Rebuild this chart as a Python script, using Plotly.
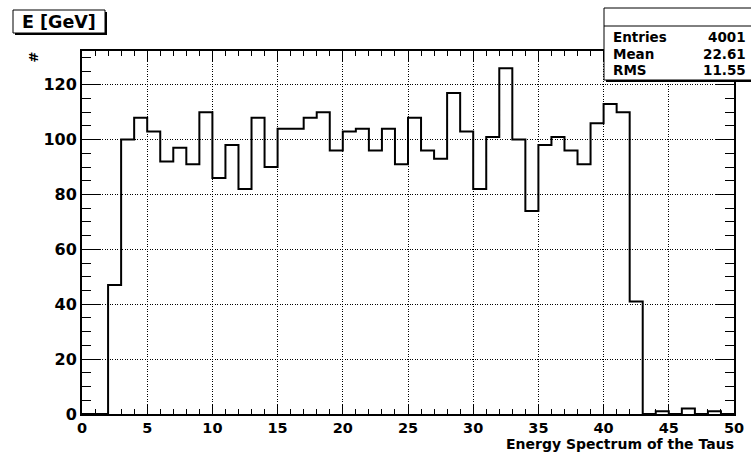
import plotly.graph_objects as go

# ---- data ----
bin_edges = list(range(0, 51))  # 50 bins of width 1 GeV, 0..50
counts = [0, 0, 47, 100, 108, 103, 92, 97, 91, 110,
          86, 98, 82, 108, 90, 104, 104, 108, 110, 96,
          103, 104, 96, 104, 91, 108, 96, 93, 117, 103,
          82, 101, 126, 100, 74, 98, 101, 96, 91, 106,
          113, 110, 41, 0, 1, 0, 2, 0, 1, 0]
x_ticks = [0, 5, 10, 15, 20, 25, 30, 35, 40, 45, 50]
y_ticks = [0, 20, 40, 60, 80, 100, 120]
stats_labels = ["Entries", "Mean", "RMS"]
stats_values = ["4001", "22.61", "11.55"]
title_text = "E [GeV]"
x_title = "Energy Spectrum of the Taus"
y_title = "#"

W, H = 751, 453
L, R, T, B = 82, 17, 51, 39
PW, PH = W - L - R, H - T - B
ymax = max(counts) * 1.05


def px(xp):
    return (xp - L) / PW


def py(yp):
    return (H - B - yp) / PH


FONT = "DejaVu Sans"

fig = go.Figure()
fig.add_trace(go.Scatter(
    x=bin_edges, y=counts + [counts[-1]], mode="lines",
    line=dict(color="black", width=2, shape="hv"),
    hoverinfo="skip", showlegend=False))

axis_common = dict(
    showline=True, linecolor="black", linewidth=2, mirror="ticks",
    ticks="inside", tickcolor="black", tickwidth=1,
    showgrid=True, gridcolor="black", gridwidth=1, griddash="1px,1.5px",
    zeroline=False,
)

fig.update_xaxes(**axis_common, range=[0, 50], tickvals=x_ticks, ticklen=10,
                 minor=dict(ticks="inside", ticklen=5, dtick=1, tickcolor="black", showgrid=False),
                 tickfont=dict(family=FONT, size=14.5, color="black", weight="bold"))
fig.update_yaxes(**axis_common, range=[0, ymax], tickvals=y_ticks, ticklen=18,
                 minor=dict(ticks="inside", ticklen=9, dtick=5, tickcolor="black", showgrid=False),
                 tickfont=dict(family=FONT, size=16, color="black", weight="bold"))

shapes = []
# title box with shadow
shapes.append(dict(type="rect", xref="paper", yref="paper", layer="above",
                   x0=px(15), x1=px(107), y0=py(12), y1=py(35),
                   fillcolor="black", line=dict(width=0)))
shapes.append(dict(type="rect", xref="paper", yref="paper", layer="above",
                   x0=px(13), x1=px(105), y0=py(10), y1=py(33),
                   fillcolor="white", line=dict(color="black", width=1)))
# stats box with shadow
shapes.append(dict(type="rect", xref="paper", yref="paper", layer="above",
                   x0=px(606), x1=px(762), y0=py(10), y1=py(82),
                   fillcolor="black", line=dict(width=0)))
shapes.append(dict(type="rect", xref="paper", yref="paper", layer="above",
                   x0=px(604), x1=px(760), y0=py(8), y1=py(80),
                   fillcolor="white", line=dict(color="black", width=1)))
shapes.append(dict(type="line", xref="paper", yref="paper", layer="above",
                   x0=px(604), x1=px(760), y0=py(26), y1=py(26),
                   line=dict(color="black", width=1)))

annotations = []
annotations.append(dict(text=title_text, xref="paper", yref="paper",
                        x=px(59), y=py(22), xanchor="center", yanchor="middle",
                        showarrow=False,
                        font=dict(family=FONT, size=17.5, color="black", weight="bold")))
row_y = [36.7, 53.5, 70]
for lab, val, ry in zip(stats_labels, stats_values, row_y):
    annotations.append(dict(text=lab, xref="paper", yref="paper",
                            x=px(611), y=py(ry), xanchor="left", yanchor="middle",
                            showarrow=False,
                            font=dict(family=FONT, size=13.5, color="black", weight="bold")))
    annotations.append(dict(text=val, xref="paper", yref="paper",
                            x=px(748), y=py(ry), xanchor="right", yanchor="middle",
                            showarrow=False,
                            font=dict(family=FONT, size=13.5, color="black", weight="bold")))
annotations.append(dict(text=x_title, xref="paper", yref="paper",
                        x=px(736), y=py(444), xanchor="right", yanchor="middle",
                        showarrow=False,
                        font=dict(family=FONT, size=14, color="black", weight="bold")))
annotations.append(dict(text=y_title, xref="paper", yref="paper",
                        x=px(33), y=py(57.5), xanchor="center", yanchor="middle",
                        textangle=-90, showarrow=False,
                        font=dict(family=FONT, size=13, color="black", weight="bold")))

fig.update_layout(
    width=W, height=H,
    margin=dict(l=L, r=R, t=T, b=B, pad=0, autoexpand=False),
    paper_bgcolor="white", plot_bgcolor="white",
    shapes=shapes, annotations=annotations,
    showlegend=False,
)

fig.write_html("out.html")
